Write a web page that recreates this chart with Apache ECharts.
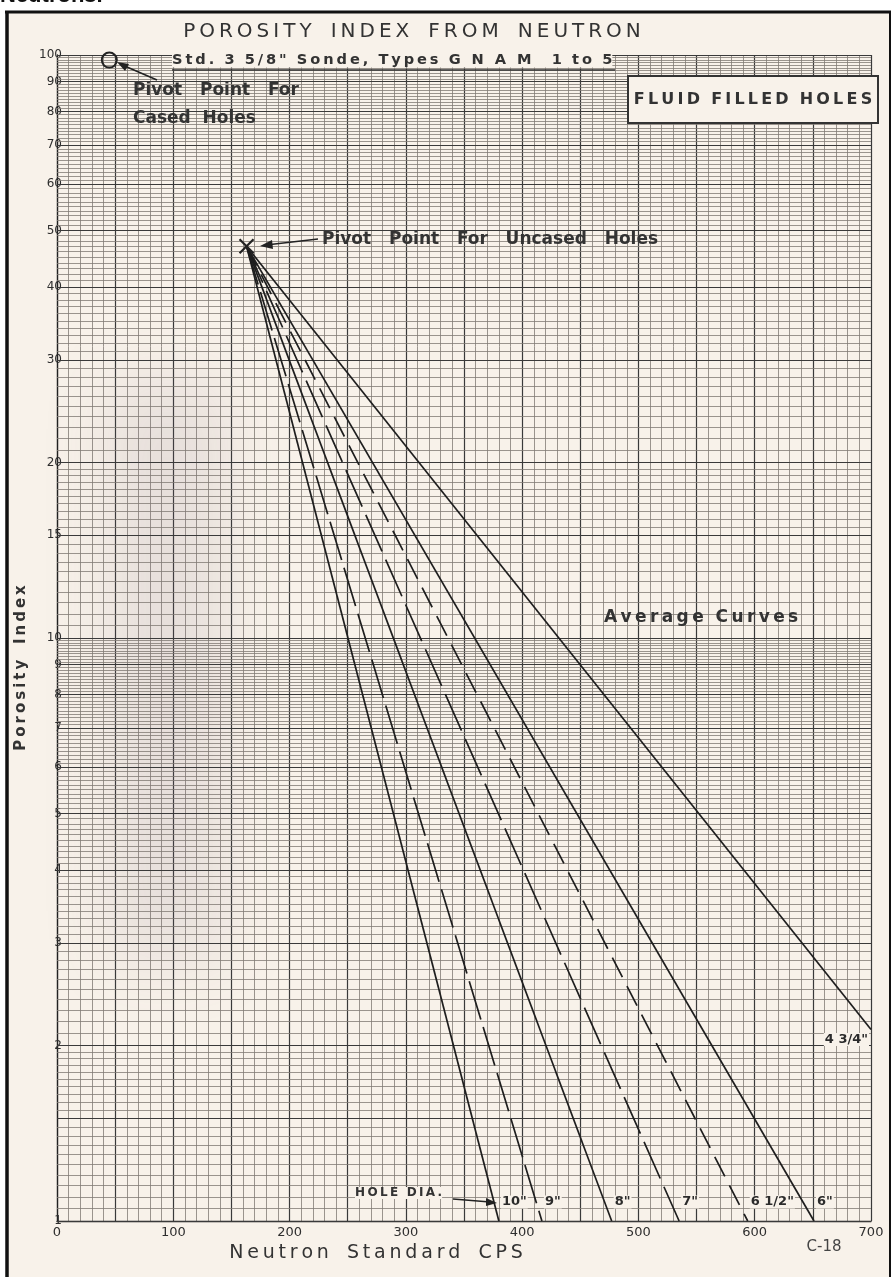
<!DOCTYPE html>
<html>
<head>
<meta charset="utf-8">
<title>Porosity Index from Neutron</title>
<script src="https://cdn.jsdelivr.net/npm/echarts@6/dist/echarts.min.js"></script>
<style>
  html, body { margin: 0; padding: 0; background: #fff; }
  #chart { width: 894px; height: 1277px; }
</style>
</head>
<body>
<div id="chart"></div>
<script>
// tick labels
var xLabels = [0, 100, 200, 300, 400, 500, 600, 700];
var yLabels = [1, 2, 3, 4, 5, 6, 7, 8, 9, 10, 15, 20, 30, 40, 50, 60, 70, 80, 90, 100];

// pivot points (CPS, porosity index)
var pivotUncased = [163, 47];
var pivotCased = [45, 98];

// average curves: hole size, end point
var holeSizes = ['10"', '9"', '8"', '7"', '6 1/2"', '6"', '4 3/4"'];
var endCps    = [380, 417, 477, 535, 594, 651, 700];
var endIndex  = [1, 1, 1, 1, 1, 1, 2.13];
var dashes    = ['solid', [40, 8], 'solid', [40, 9], [22, 10], 'solid', 'solid'];

// log paper rulings: [from, to, step]
var paperBands = [[1, 2, 0.05], [2, 5, 0.1], [5, 10, 0.1]];

var paper = '#f8f2ea';
var ink = '#2b2b2b';

function spaced(s) {
  return s.split('').join('\u2009');
}
function words(arr, gap) {
  return arr.map(spaced).join(gap);
}

var gridLines = [];
[1, 10].forEach(function (dec) {
  paperBands.forEach(function (b) {
    for (var v = b[0]; v < b[1] - 1e-9; v += b[2]) {
      var val = Math.round(v * 1000) / 1000;
      var major = Math.abs(val - Math.round(val)) < 1e-6 || Math.abs(val - 1.5) < 1e-6;
      gridLines.push({
        yAxis: Math.round(val * dec * 1000) / 1000,
        lineStyle: major ? { type: 'solid', color: '#3a3a3a', width: 1.2 }
                         : { type: 'solid', color: '#817b75', width: 0.8 }
      });
    }
  });
});
gridLines.push({ yAxis: 100, lineStyle: { type: 'solid', color: '#3a3a3a', width: 1.2 } });

var chart = echarts.init(document.getElementById('chart'));

var series = [];

// y tick labels + paper rulings
series.push({
  type: 'scatter',
  data: yLabels.map(function (v) { return [0, v]; }),
  symbolSize: 0,
  silent: true,
  clip: false,
  z: 3,
  itemStyle: { opacity: 1 },
  label: {
    show: true,
    position: 'left',
    distance: -5,
    color: '#2e2e2e',
    opacity: 1,
    fontSize: 12,
    fontFamily: 'DejaVu Sans',
    formatter: function (p) { return p.value[1]; }
  },
  markLine: {
    silent: true,
    symbol: 'none',
    animation: false,
    label: { show: false },
    data: gridLines
  }
});

holeSizes.forEach(function (name, i) {
  series.push({
    type: 'line',
    name: name,
    symbol: 'none',
    silent: true,
    z: 5,
    lineStyle: { color: '#1e1e1e', width: 1.7, type: dashes[i] },
    data: [pivotUncased, [endCps[i], endIndex[i]]]
  });
});

// hole size labels at curve ends
series.push({
  type: 'scatter',
  symbolSize: 0,
  silent: true,
  clip: false,
  z: 7,
  itemStyle: { opacity: 1 },
  data: holeSizes.map(function (name, i) {
    var last = i === holeSizes.length - 1;
    return {
      value: [endCps[i], endIndex[i]],
      name: name,
      label: {
        position: last ? 'left' : 'right',
        distance: 2,
        offset: last ? [0, 10] : [0, -19]
      }
    };
  }),
  label: {
    show: true,
    formatter: function (p) { return p.name; },
    color: ink,
    opacity: 1,
    fontSize: 13,
    fontWeight: 'bold',
    fontFamily: 'DejaVu Sans',
    backgroundColor: paper,
    padding: [0, 1]
  }
});

// X marker at uncased pivot
series.push({
  type: 'scatter',
  data: [pivotUncased],
  symbol: 'path://M0,0L10,10M10,0L0,10',
  symbolSize: 14,
  silent: true,
  z: 6,
  itemStyle: { color: 'none', borderColor: '#222', borderWidth: 2.2, opacity: 1 }
});
// circle at cased pivot
series.push({
  type: 'scatter',
  data: [pivotCased],
  symbol: 'circle',
  symbolSize: 15,
  silent: true,
  clip: false,
  z: 6,
  itemStyle: { color: 'rgba(0,0,0,0)', borderColor: '#222', borderWidth: 2, opacity: 1 }
});

var bold = 'bold 17px "DejaVu Sans"';

var option = {
  backgroundColor: paper,
  animation: false,
  grid: { left: 57, right: 23, top: 55, bottom: 56 },
  xAxis: {
    type: 'value',
    min: 0,
    max: 700,
    interval: 50,
    axisLine: { show: true, lineStyle: { color: '#222', width: 1.3 } },
    axisTick: { show: false },
    axisLabel: {
      color: '#2e2e2e',
      fontSize: 13,
      fontFamily: 'DejaVu Sans',
      margin: 5,
      formatter: function (v) { return xLabels.indexOf(v) >= 0 ? String(v) : ''; }
    },
    splitLine: { show: true, lineStyle: { color: '#3a3a3a', width: 1.2 } },
    minorTick: { show: false, splitNumber: 5 },
    minorSplitLine: { show: true, lineStyle: { color: '#817b75', width: 0.8 } }
  },
  yAxis: {
    type: 'log',
    logBase: 10,
    min: 1,
    max: 100,
    axisLine: { show: true, lineStyle: { color: '#222', width: 1.3 } },
    axisTick: { show: false },
    axisLabel: { show: false },
    splitLine: { show: false }
  },
  graphic: [
    // scan shading (soft shadow of an off-screen rect)
    { type: 'rect', z: 1, silent: true, shape: { x: -1000 + 110, y: 380, width: 115, height: 580 },
      style: { fill: '#000', shadowColor: 'rgba(115,95,115,0.13)', shadowBlur: 70, shadowOffsetX: 1000, shadowOffsetY: 0 } },
    // page outside the frame
    { type: 'rect', z: 20, shape: { x: 0, y: 0, width: 894, height: 11 }, style: { fill: '#fff' } },
    { type: 'rect', z: 20, shape: { x: 0, y: 0, width: 6, height: 1277 }, style: { fill: '#fff' } },
    { type: 'rect', z: 20, shape: { x: 891, y: 0, width: 3, height: 1277 }, style: { fill: '#fff' } },
    { type: 'text', z: 21, x: 0, y: 7, style: { text: 'Neutrons.', font: 'bold 22px "Liberation Sans"', fill: '#111', verticalAlign: 'bottom' } },
    // frame
    { type: 'line', z: 21, shape: { x1: 5, y1: 12, x2: 891, y2: 12 }, style: { stroke: '#111', lineWidth: 3 } },
    { type: 'line', z: 21, shape: { x1: 7, y1: 11, x2: 7, y2: 1277 }, style: { stroke: '#111', lineWidth: 3.5 } },
    { type: 'line', z: 21, shape: { x1: 890, y1: 11, x2: 890, y2: 1277 }, style: { stroke: '#111', lineWidth: 2 } },
    // titles
    { type: 'text', x: 412, y: 32, z: 10, style: { text: words(['POROSITY', 'INDEX', 'FROM', 'NEUTRON'], '   '),
      font: '20px "DejaVu Sans"', fill: '#333', align: 'center', verticalAlign: 'middle' } },
    { type: 'text', x: 172, y: 60, z: 10, style: { text: words(['Std.', '3', '5/8"', 'Sonde,', 'Types', 'G N A M', '', '1', 'to', '5'], '  '),
      font: 'bold 14.6px "DejaVu Sans"', fill: '#333', backgroundColor: paper, verticalAlign: 'middle' } },
    { type: 'line', z: 10, shape: { x1: 172, y1: 70, x2: 615, y2: 70 }, style: { stroke: '#333', lineWidth: 1.5 } },
    { type: 'text', x: 133, y: 91, z: 10, style: { text: 'Pivot   Point   For', font: bold, fill: '#333', verticalAlign: 'middle' } },
    { type: 'text', x: 133, y: 119, z: 10, style: { text: 'Cased  Holes', font: bold, fill: '#333', verticalAlign: 'middle' } },
    { type: 'line', z: 10, shape: { x1: 157, y1: 80, x2: 120, y2: 64 }, style: { stroke: '#222', lineWidth: 1.6 } },
    { type: 'polygon', z: 10, shape: { points: [[117, 62], [129, 64], [125, 71]] }, style: { fill: '#222' } },
    { type: 'rect', z: 10, shape: { x: 628, y: 76, width: 250, height: 47 }, style: { fill: paper, stroke: '#333', lineWidth: 2 } },
    { type: 'text', x: 753, y: 100, z: 11, style: { text: words(['FLUID', 'FILLED', 'HOLES'], '  '), font: 'bold 16px "DejaVu Sans"', fill: '#333', align: 'center', verticalAlign: 'middle' } },
    { type: 'text', x: 322, y: 240, z: 10, style: { text: 'Pivot   Point   For   Uncased   Holes', font: bold, fill: '#333', verticalAlign: 'middle' } },
    { type: 'line', z: 10, shape: { x1: 318, y1: 239, x2: 266, y2: 245 }, style: { stroke: '#222', lineWidth: 1.6 } },
    { type: 'polygon', z: 10, shape: { points: [[260, 246], [272, 240], [273, 249]] }, style: { fill: '#222' } },
    { type: 'text', x: 604, y: 618, z: 10, style: { text: words(['Average', 'Curves'], '  '), font: 'bold 17px "DejaVu Sans"', fill: '#333', verticalAlign: 'middle' } },
    { type: 'text', x: 355, y: 1193, z: 10, style: { text: words(['HOLE', 'DIA.'], '  '), font: 'bold 12px "DejaVu Sans"', fill: '#333', backgroundColor: paper, verticalAlign: 'middle' } },
    { type: 'line', z: 10, shape: { x1: 453, y1: 1199, x2: 490, y2: 1202 }, style: { stroke: '#222', lineWidth: 1.3 } },
    { type: 'polygon', z: 10, shape: { points: [[497, 1203], [486, 1198], [486, 1206]] }, style: { fill: '#222' } },
    { type: 'text', x: 376, y: 1253, z: 10, style: { text: words(['Neutron', 'Standard', 'CPS'], '   '),
      font: '19px "DejaVu Sans"', fill: '#333', align: 'center', verticalAlign: 'middle' } },
    { type: 'text', x: 824, y: 1247, z: 10, style: { text: 'C-18', font: '15px "DejaVu Sans"', fill: '#444', align: 'center', verticalAlign: 'middle' } },
    { type: 'text', x: 21, y: 668, z: 10, rotation: Math.PI / 2,
      style: { text: words(['Porosity', 'Index'], '   '), font: 'bold 15px "DejaVu Sans"', fill: '#333', align: 'center', verticalAlign: 'middle' } }
  ],
  series: series
};

chart.setOption(option);
</script>
</body>
</html>
